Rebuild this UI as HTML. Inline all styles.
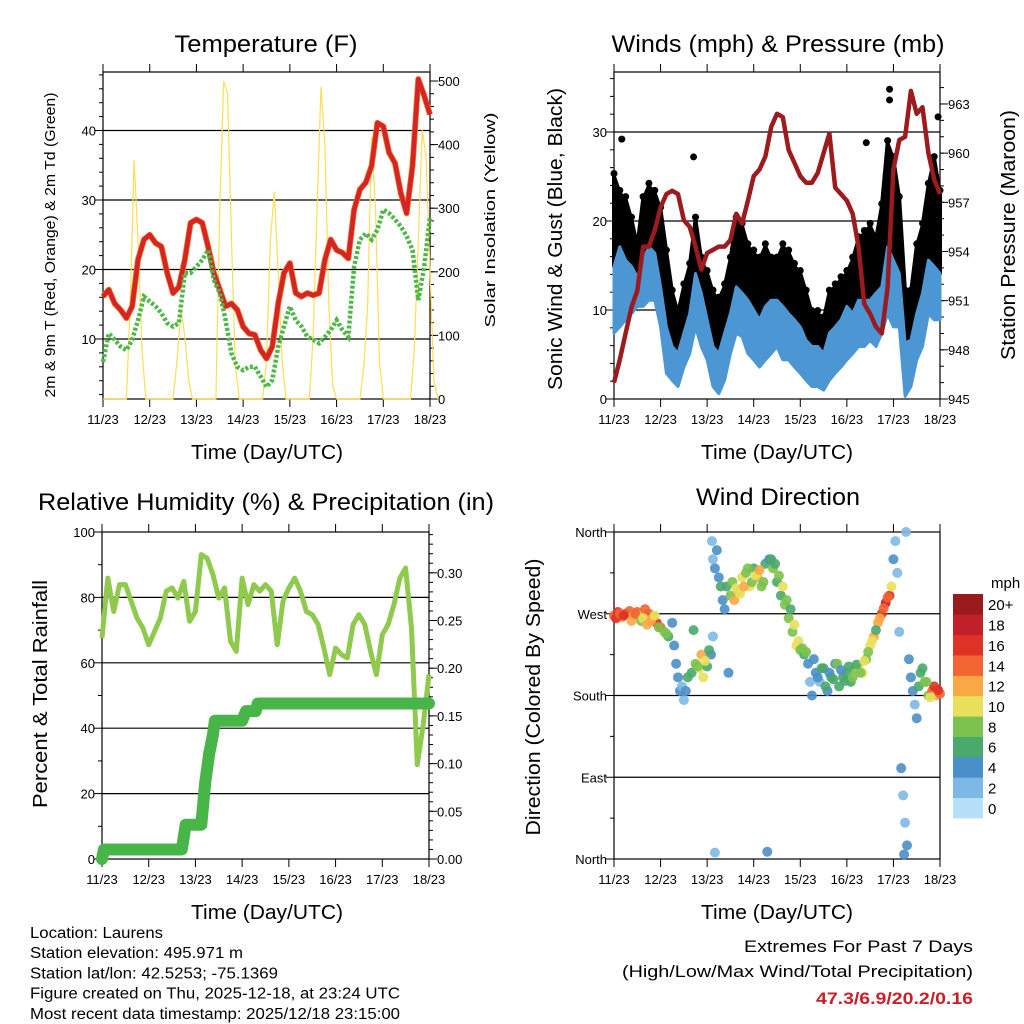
<!DOCTYPE html>
<html><head><meta charset="utf-8"><title>Station meteogram</title>
<style>
html,body{margin:0;padding:0;background:#fff;}
svg{display:block;font-family:"Liberation Sans",Arial,sans-serif;}
</style></head>
<body>
<svg id="fig" width="1024" height="1024" viewBox="0 0 1024 1024" xmlns="http://www.w3.org/2000/svg"></svg>
<script>
// ---------- DATA (3-hourly, hour 0 = 11/23 00 UTC) ----------
const tempF = [16.1,17.1,15.1,14.2,13.0,14.7,21.4,24.3,25.0,23.8,23.3,19.5,16.6,17.5,21.4,26.7,27.2,26.7,23.3,19.5,17.1,14.7,15.1,14.2,11.8,10.8,10.6,8.4,7.2,8.9,15.1,19.5,20.9,16.6,16.1,16.6,16.3,16.6,21.4,24.3,22.8,22.4,21.6,28.6,31.5,32.5,34.9,41.1,40.6,36.8,35.3,31.0,28.1,34.9,47.4,45.0,42.3];
const dewF = [6.7,10.8,9.9,8.9,8.4,9.9,12.7,16.1,15.4,14.7,13.7,12.3,11.8,12.3,19.5,19.5,20.4,21.4,22.8,18.5,16.6,12.7,7.9,6.0,5.5,6.0,6.0,4.6,3.1,4.1,8.9,11.8,14.7,12.7,11.8,10.3,9.9,9.4,10.3,11.3,12.7,11.3,10.3,20.4,24.3,25.2,24.3,25.7,28.6,28.1,27.2,26.2,24.8,22.8,15.6,20.4,27.6];
// solar, 2-hourly
const solar = [0,0,0,0,0,0,0,150,376,250,80,0, 0,0,0,0,0,0,0,60,140,100,30,0, 0,0,0,0,0,0,300,500,480,250,50,0, 0,0,0,0,0,0,60,250,326,200,60,0, 0,0,0,0,0,0,100,300,491,400,150,20, 0,0,0,0,0,0,0,50,150,412,300,60, 0,0,0,0,0,0,0,0,80,250,423,380,200,30,0];
const pressure = [946.0,947.4,949.0,950.6,951.6,954.3,954.3,955.3,956.7,957.5,957.7,957.5,955.9,955.5,954.3,952.9,953.9,954.1,954.3,954.3,954.7,956.3,955.7,957.1,958.6,959.0,959.8,961.6,962.4,962.2,960.2,959.4,958.6,958.2,958.2,958.8,960.0,961.2,957.9,957.5,957.1,956.3,954.3,950.8,950.2,949.4,949.0,951.8,959.0,960.8,961.0,963.8,962.4,962.8,960.0,958.4,957.5];
const windLo = [7.4,8.1,8.9,9.6,10.4,10.4,11.1,11.1,8.1,2.9,2.1,1.4,3.6,5.1,8.1,5.9,4.4,1.4,0.6,2.1,5.1,7.4,7.0,5.1,4.4,3.6,4.4,5.1,5.9,4.4,4.4,3.6,2.9,2.1,1.4,1.4,1.0,2.1,2.9,3.6,4.4,5.1,5.9,5.9,6.6,5.9,7.4,9.6,8.1,8.1,0.3,1.4,4.4,5.9,9.6,8.9,8.9];
const windHi = [14.9,17.1,15.6,14.9,13.7,15.6,17.1,16.4,12.6,8.1,5.9,5.1,7.4,9.6,14.1,11.9,8.9,5.9,5.1,7.4,9.6,12.6,11.9,11.1,10.0,8.9,10.4,11.1,11.1,10.4,9.6,8.9,8.1,6.6,5.9,5.9,5.1,7.4,8.1,8.9,10.4,9.6,11.1,11.1,11.1,11.9,12.6,17.1,15.6,14.1,6.3,6.6,9.6,11.9,15.6,14.9,14.1];
const gustHi = [25.0,23.1,22.4,20.1,17.1,22.4,23.9,23.1,21.2,16.4,11.9,9.6,12.6,14.9,20.1,15.6,14.1,11.9,11.1,12.6,15.6,20.1,19.4,17.1,16.4,15.6,17.1,15.6,15.6,17.1,16.4,14.9,14.1,11.9,9.6,9.6,8.9,11.9,12.6,13.4,14.1,15.6,17.9,18.6,19.4,17.9,21.6,28.7,26.9,22.4,11.9,11.9,17.1,19.4,23.9,26.9,23.1];
const gustOutHour = [4,41,142,142,130,167];
const gustOutVal = [29.2,27.2,34.8,33.6,28.8,31.7];
const rh = [67.6,85.9,75.7,83.9,83.9,78.8,73.7,70.6,65.5,69.6,73.7,81.9,82.9,79.8,84.9,72.7,75.7,93.1,92.0,87.0,79.8,82.9,66.6,63.5,85.9,77.8,83.9,81.9,83.9,81.9,65.5,78.8,82.9,85.9,81.9,75.7,74.7,71.7,64.5,56.4,64.5,62.5,61.5,71.7,74.7,71.7,63.5,56.4,68.6,71.7,77.8,85.9,89.0,70.6,28.8,41.1,56.4];
const precipHour = [0,1,41,43,51,53,55,57,58,72,74,79,80,168];
const precipVal = [0,0.01,0.01,0.036,0.036,0.08,0.11,0.13,0.145,0.145,0.155,0.155,0.163,0.163];
// wind direction scatter: hour, degrees, speed
const dirHour = [0,2,4,6,8,10,12,13,14,16,18,20,22,24,26,28,30,31,32,33,34,35,36,37,38,40,42,44,45,46,48,50,51,50.5,51,52,53,54,55,56,57,58,60,62,64,66,68,70,72,74,76,78,80,82,84,86,88,90,92,94,96,98,100,101,102,104,106,108,110,112,114,116,118,120,122,124,126,128,130,132,134,136,138,140,142,143,144,145,146,147,148,149,150,151,149.5,150.5,152,153,154,155,156,157,158,160,162,164,165,166,168,52,79,1,3,5,9,11,15,17,19,21,23,27,41,43,47,49,59,61,63,65,67,69,71,73,75,77,81,83,85,87,89,91,93,95,97,99,103,105,107,109,111,113,115,117,119,121,123,125,127,129,131,133,135,137,139,141,159,161,163,167];
const dirDeg = [268,272,266,270,273,268,272,268,262,275,270,265,260,255,250,245,260,235,215,200,185,190,175,185,200,205,215,210,225,200,212,225,245,350,330,320,340,310,300,285,275,300,290,285,295,310,315,300,320,310,300,325,330,320,305,290,280,265,250,235,230,225,215,195,180,205,195,210,185,200,215,190,200,205,195,210,212,205,220,235,245,260,270,282,290,300,330,350,315,250,100,70,40,15,5,360,220,200,185,170,155,190,205,195,180,185,190,180,182,7,8,265,270,268,262,270,265,258,262,268,255,248,252,212,218,230,205,305,298,292,300,320,305,312,318,305,330,325,312,300,285,275,258,240,232,228,220,200,210,190,205,198,215,208,196,212,200,214,205,218,228,240,252,265,276,288,210,195,178,186];
const dirSpd = [14,16,12,15,13,11,14,9,8,13,14,12,15,13,8,6,4,4,3,4,3,2,1,4,6,6,8,10,12,10,6,4,2,2,2,4,4,4,6,4,4,6,8,12,12,10,8,10,6,12,8,6,4,8,6,6,8,8,8,10,8,6,4,2,3,4,2,6,4,6,4,6,5,6,6,8,10,9,8,9,11,12,16,18,15,10,4,2,2,2,3,2,2,3,4,2,4,3,4,2,4,5,6,8,8,14,16,12,13,2,4,15,13,16,12,14,10,12,11,9,8,7,6,7,9,5,4,7,10,9,11,8,7,9,11,8,6,5,7,9,7,5,9,10,7,8,4,3,5,6,3,5,7,4,6,5,7,6,8,9,7,10,6,12,14,13,5,7,10,15];
const cbLabels = ["0","2","4","6","8","10","12","14","16","18","20+"];
const cbColors = ["#b5e0f8","#7db8e6","#4a8fc8","#4aa96c","#7cc24e","#e8e05a","#f9a846","#f26430","#df3226","#c1202a","#9b1a1e"];
const dayLabels = ["11/23","12/23","13/23","14/23","15/23","16/23","17/23","18/23"];

// ---------- HELPERS ----------
const NS="http://www.w3.org/2000/svg";
const svg=document.getElementById('fig');
function mk(tag,attrs,parent){const e=document.createElementNS(NS,tag);for(const k in attrs)e.setAttribute(k,attrs[k]);(parent||svg).appendChild(e);return e;}
function txt(s,x,y,size,anchor,parent,extra){const e=mk('text',Object.assign({x:x,y:y,'font-size':size,'text-anchor':anchor||'middle',fill:'#000'},extra||{}),parent);e.textContent=s;return e;}
function pathFrom(xs,ys){let d='';for(let i=0;i<xs.length;i++)d+=(i?'L':'M')+xs[i].toFixed(1)+','+ys[i].toFixed(1);return d;}

function panel(name,x0,x1,y0,y1){
  const g=mk('g',{});
  
  
  const xs=h=>x0+(x1-x0)*h/168;
  return {g,x0,x1,y0,y1,xs};
}
function frame(P,leftTicks,leftY,leftLab,gridVals,rightTicks,rightY,rightLab,leftMinor,rightMinor){
  const g=P.g;
  gridVals.forEach(v=>{const l=mk('line',{x1:P.x0,x2:P.x1,y1:leftY(v),y2:leftY(v),stroke:'#000','stroke-width':1.2},g);
    
    });
  for(let d=0;d<=7;d++){const x=P.xs(d*24);
    mk('line',{x1:x,x2:x,y1:P.y1,y2:P.y1+8,stroke:'#000','stroke-width':1},g);
    mk('line',{x1:x,x2:x,y1:P.y0,y2:P.y0-8,stroke:'#000','stroke-width':1},g);
    const t=txt(dayLabels[d],x,P.y1+25,13,'middle',g);
    
    }
  leftTicks.forEach((v,i)=>{const y=leftY(v);
    mk('line',{x1:P.x0-8,x2:P.x0,y1:y,y2:y,stroke:'#000','stroke-width':1},g);
    const t=txt(leftLab[i],P.x0-7,y+5,13,'end',g);
    
    });
  (leftMinor||[]).forEach(v=>{const y=leftY(v);mk('line',{x1:P.x0-4,x2:P.x0,y1:y,y2:y,stroke:'#000','stroke-width':1},g);});
  if(rightTicks){rightTicks.forEach((v,i)=>{const y=rightY(v);
    mk('line',{x1:P.x1,x2:P.x1+8,y1:y,y2:y,stroke:'#000','stroke-width':1},g);
    const t=txt(rightLab[i],P.x1+8,y+5,13,'start',g);
    
    });
    (rightMinor||[]).forEach(v=>{const y=rightY(v);mk('line',{x1:P.x1,x2:P.x1+4,y1:y,y2:y,stroke:'#000','stroke-width':1},g);});}
  const r=mk('rect',{x:P.x0,y:P.y0,width:P.x1-P.x0,height:P.y1-P.y0,fill:'none',stroke:'#000','stroke-width':1.2},g);
  
  
}
function rng(a,b,s){const o=[];for(let v=a;v<=b+1e-9;v+=s)o.push(+v.toFixed(4));return o;}
function hours(n,step){const o=[];for(let i=0;i<n;i++)o.push(i*step);return o;}

// ---------- PANEL 1: Temperature ----------
{
 const P=panel('temperature-panel',103,430,72,399);
 const yT=v=>339-(v-10)*6.95, yS=v=>399-v*0.636;
 frame(P,[10,20,30,40],yT,['10','20','30','40'],[10,20,30,40],[0,100,200,300,400,500],yS,['0','100','200','300','400','500'],rng(2,48,2),rng(0,510,20));
 const h2=hours(solar.length,2);
 const s=mk('path',{d:pathFrom(h2.map(P.xs),solar.map(v=>yS(Math.min(v,515)))),fill:'none',stroke:'#ffdd55','stroke-width':1.2},P.g);
 
 
 const h3=hours(tempF.length,3);
 const o=mk('path',{d:pathFrom(h3.map(P.xs),tempF.map(yT)),fill:'none',stroke:'#f07a2a','stroke-width':6,'stroke-linejoin':'round'},P.g);
 
 
 const r=mk('path',{d:pathFrom(h3.map(P.xs),tempF.map(yT)),fill:'none',stroke:'#d42424','stroke-width':4.5,'stroke-linejoin':'round'},P.g);
 
 
 const d=mk('path',{d:pathFrom(h3.map(P.xs),dewF.map(yT)),fill:'none',stroke:'#4db848','stroke-width':4.5,'stroke-dasharray':'3,2'},P.g);
 
 
 const t=txt('Temperature (F)',266,52,24,'middle',P.g,{textLength:183,lengthAdjust:'spacingAndGlyphs'});
 
 
 const xl=txt('Time (Day/UTC)',267,459,20,'middle',P.g,{textLength:152,lengthAdjust:'spacingAndGlyphs'});
 
 
 const yl=txt('2m & 9m T (Red, Orange) & 2m Td (Green)',0,0,15,'middle',P.g,{transform:'translate(55,245) rotate(-90)',textLength:305,lengthAdjust:'spacingAndGlyphs'});
 
 
 const yr=txt('Solar Insolation (Yellow)',0,0,15,'middle',P.g,{transform:'translate(495,220) rotate(-90)',textLength:215,lengthAdjust:'spacingAndGlyphs'});
 
 
}

// ---------- PANEL 2: Winds & Pressure ----------
{
 const P=panel('winds-pressure-panel',614,940,72,399);
 const yW=v=>399-v*8.9, yP=p=>399-(p-945)*16.39;
 frame(P,[0,10,20,30],yW,['0','10','20','30'],[10,20,30],[945,948,951,954,957,960,963],yP,['945','948','951','954','957','960','963'],rng(2,36,2),rng(945,964,1));
 const h3=hours(windLo.length,3);
 const xs=h3.map(P.xs);
 const gp=xs.map((x,i)=>x.toFixed(1)+','+yW(gustHi[i]).toFixed(1)).concat(xs.slice().reverse().map((x,j)=>{const i=xs.length-1-j;return x.toFixed(1)+','+yW(windHi[i]).toFixed(1);})).join(' ');
 const gb=mk('polygon',{points:gp,fill:'#000',stroke:'#000','stroke-width':4,'stroke-linejoin':'round'},P.g);
 
 
 gustHi.forEach((v,i)=>{const c=mk('circle',{cx:xs[i],cy:yW(v)-3,r:3.5,fill:'#000'},P.g);
   
   });
 gustOutHour.forEach((h,i)=>{const c=mk('circle',{cx:P.xs(h),cy:yW(gustOutVal[i]),r:3.5,fill:'#000'},P.g);
   
   });
 const wp=xs.map((x,i)=>x.toFixed(1)+','+yW(windHi[i]).toFixed(1)).concat(xs.slice().reverse().map((x,j)=>{const i=xs.length-1-j;return x.toFixed(1)+','+yW(windLo[i]).toFixed(1);})).join(' ');
 const wb=mk('polygon',{points:wp,fill:'#4b96d3',stroke:'#4b96d3','stroke-width':3,'stroke-linejoin':'round'},P.g);
 
 
 const pl=mk('path',{d:pathFrom(xs,pressure.map(yP)),fill:'none',stroke:'#9b1b1e','stroke-width':4.5,'stroke-linejoin':'round'},P.g);
 
 
 const t=txt('Winds (mph) & Pressure (mb)',778,52,24,'middle',P.g,{textLength:333,lengthAdjust:'spacingAndGlyphs'});
 
 
 const xl=txt('Time (Day/UTC)',777,459,20,'middle',P.g,{textLength:152,lengthAdjust:'spacingAndGlyphs'});
 
 
 const yl=txt('Sonic Wind & Gust (Blue, Black)',0,0,20,'middle',P.g,{transform:'translate(562,239) rotate(-90)',textLength:302,lengthAdjust:'spacingAndGlyphs'});
 
 
 const yr=txt('Station Pressure (Maroon)',0,0,20,'middle',P.g,{transform:'translate(1015,235) rotate(-90)',textLength:250,lengthAdjust:'spacingAndGlyphs'});
 
 
}

// ---------- PANEL 3: RH & Precip ----------
{
 const P=panel('humidity-precip-panel',102,429,532,859);
 const yR=v=>859-v*3.27, yPr=v=>859-v*954;
 frame(P,[0,20,40,60,80,100],yR,['0','20','40','60','80','100'],[20,40,60,80],[0,0.05,0.1,0.15,0.2,0.25,0.3],yPr,['0.00','0.05','0.10','0.15','0.20','0.25','0.30'],rng(10,90,20),rng(0.01,0.34,0.01));
 const h3=hours(rh.length,3);
 const r=mk('path',{d:pathFrom(h3.map(P.xs),rh.map(yR)),fill:'none',stroke:'#8fca4f','stroke-width':5,'stroke-linejoin':'round'},P.g);
 
 
 const p=mk('path',{d:pathFrom(precipHour.map(P.xs),precipVal.map(yPr)),fill:'none',stroke:'#48b548','stroke-width':12,'stroke-linejoin':'round','stroke-linecap':'round'},P.g);
 
 
 const t=txt('Relative Humidity (%) & Precipitation (in)',266,510,24,'middle',P.g,{textLength:456,lengthAdjust:'spacingAndGlyphs'});
 
 
 const xl=txt('Time (Day/UTC)',267,919,20,'middle',P.g,{textLength:152,lengthAdjust:'spacingAndGlyphs'});
 
 
 const yl=txt('Percent & Total Rainfall',0,0,20,'middle',P.g,{transform:'translate(47,694) rotate(-90)',textLength:228,lengthAdjust:'spacingAndGlyphs'});
 
 
}

// ---------- PANEL 4: Wind direction ----------
{
 const P=panel('wind-direction-panel',614,940,532,859);
 const yD=d=>859-d*0.9083;
 frame(P,[0,90,180,270,360],yD,['North','East','South','West','North'],[90,180,270],null,null,null,rng(45,315,90));
 const col=s=>cbColors[Math.max(0,Math.min(10,Math.round(s/2)))];
 dirHour.forEach((h,i)=>{const c=mk('circle',{cx:P.xs(h),cy:yD(dirDeg[i]),r:5,fill:col(dirSpd[i]),'fill-opacity':0.9},P.g);
   
   });
 const t=txt('Wind Direction',778,505,24,'middle',P.g,{textLength:164,lengthAdjust:'spacingAndGlyphs'});
 
 
 const xl=txt('Time (Day/UTC)',777,919,20,'middle',P.g,{textLength:152,lengthAdjust:'spacingAndGlyphs'});
 
 
 const yl=txt('Direction (Colored By Speed)',0,0,20,'middle',P.g,{transform:'translate(540,697) rotate(-90)',textLength:277,lengthAdjust:'spacingAndGlyphs'});
 
 
 const cb=mk('g',{});
 
 
 const bh=(818-594)/11;
 cbColors.forEach((c,i)=>{const y=818-(i+1)*bh;
   const r=mk('rect',{x:953,y:y,width:30,height:bh+0.4,fill:c},cb);
   
   
   const l=txt(cbLabels[i],988,y+bh/2+6,15,'start',cb);
   
   });
 const u=txt('mph',991,588,15,'start',cb);
 
 
}

// ---------- FOOTER TEXT ----------
{
 const info=['Location: Laurens','Station elevation: 495.971 m','Station lat/lon: 42.5253; -75.1369','Figure created on Thu, 2025-12-18, at 23:24 UTC','Most recent data timestamp: 2025/12/18 23:15:00'];
 const lens=[133,213,248,370,370];
 info.forEach((s,i)=>{const t=txt(s,30,938+i*20.2,15.5,'start',svg,{textLength:lens[i],lengthAdjust:'spacingAndGlyphs'});
   
   });
 const e1=txt('Extremes For Past 7 Days',973,952,17,'end',svg,{textLength:229,lengthAdjust:'spacingAndGlyphs'});
 
 
 const e2=txt('(High/Low/Max Wind/Total Precipitation)',973,977,17,'end',svg,{textLength:351,lengthAdjust:'spacingAndGlyphs'});
 
 
 const e3=txt('47.3/6.9/20.2/0.16',973,1004,17,'end',svg,{fill:'#c8202a','font-weight':'bold',textLength:157,lengthAdjust:'spacingAndGlyphs'});
 
 
}
</script>
</body></html>
